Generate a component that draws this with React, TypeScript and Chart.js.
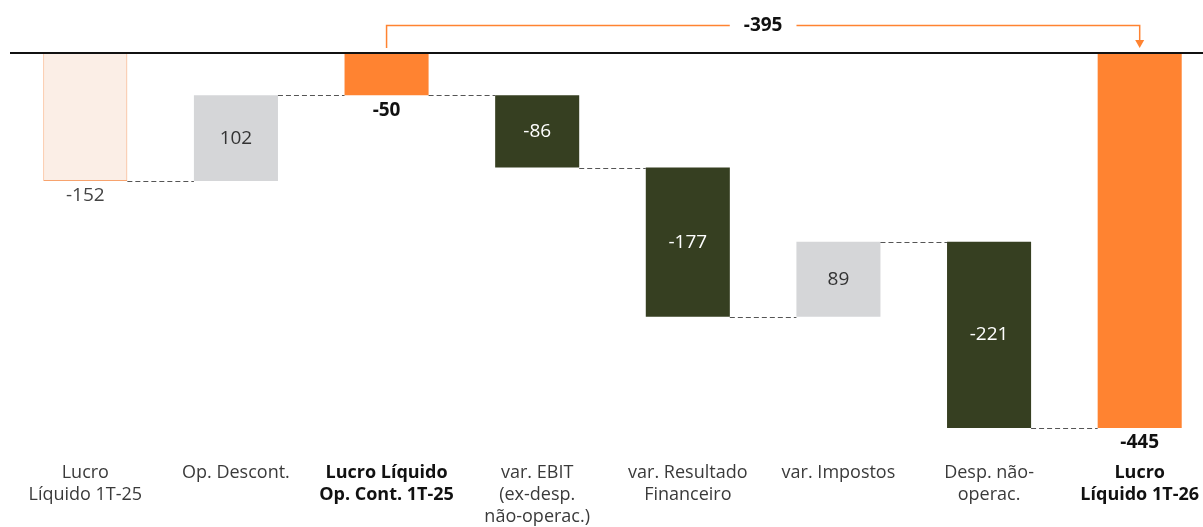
import React, { useEffect, useRef } from "react";
import { Chart, registerables } from "chart.js";

Chart.register(...registerables);

const categories: string[][] = [
  ["Lucro", "Líquido 1T-25"],
  ["Op. Descont."],
  ["Lucro Líquido", "Op. Cont. 1T-25"],
  ["var. EBIT", "(ex-desp.", "não-operac.)"],
  ["var. Resultado", "Financeiro"],
  ["var. Impostos"],
  ["Desp. não-", "operac."],
  ["Lucro", "Líquido 1T-26"],
];
const values: number[] = [-152, 102, -50, -86, -177, 89, -221, -445];
const isTotal: boolean[] = [true, false, true, false, false, false, false, true];
const emphasized: boolean[] = [false, false, true, false, false, false, false, true];
const bracketFrom = 2;
const bracketTo = 7;

const FONT = "'Open Sans', 'DejaVu Sans', sans-serif";
const ORANGE = "#FF8331";
const OLIVE = "#363F21";
const GRAY = "#D5D6D8";
const PEACH = "#FBEEE6";

const ranges: [number, number][] = [];
const levels: number[] = [];
{
  let run = 0;
  values.forEach((v, i) => {
    if (isTotal[i]) {
      ranges.push([0, v]);
      run = v;
    } else {
      ranges.push([run, run + v]);
      run += v;
    }
    levels.push(run);
  });
}

const fillColors = values.map((v, i) =>
  i === 0 ? PEACH : isTotal[i] ? ORANGE : v >= 0 ? GRAY : OLIVE
);
const borderColors = values.map((_, i) => (i === 0 ? "#F7A36E" : "rgba(0,0,0,0)"));
const borderWidths = values.map((_, i) => (i === 0 ? 1 : 0));

const CW = 1215;

const overlay = {
  id: "waterfallOverlay",
  afterDatasetsDraw(chart: any) {
    const { ctx, chartArea, scales } = chart;
    const y = scales.y;
    const meta = chart.getDatasetMeta(0);
    const els = meta.data;
    ctx.save();

    ctx.strokeStyle = "#555";
    ctx.lineWidth = 1;
    ctx.setLineDash([5, 3]);
    for (let i = 0; i < els.length - 1; i++) {
      const a = els[i];
      const b = els[i + 1];
      const py = Math.round(y.getPixelForValue(levels[i])) + 0.5;
      ctx.beginPath();
      ctx.moveTo(a.x + a.width / 2, py);
      ctx.lineTo(b.x - b.width / 2, py);
      ctx.stroke();
    }
    ctx.setLineDash([]);

    const zy = y.getPixelForValue(0);
    ctx.strokeStyle = "#111";
    ctx.lineWidth = 2;
    ctx.beginPath();
    ctx.moveTo(chartArea.left, zy);
    ctx.lineTo(chart.width, zy);
    ctx.stroke();

    ctx.textAlign = "center";
    ctx.textBaseline = "middle";
    els.forEach((el: any, i: number) => {
      const [s, e] = ranges[i];
      const txt = String(values[i]);
      if (isTotal[i]) {
        const bottom = y.getPixelForValue(Math.min(s, e));
        ctx.font = `${emphasized[i] ? "bold " : ""}19px ${FONT}`;
        ctx.fillStyle = emphasized[i] ? "#111" : "#444";
        ctx.fillText(txt, el.x, bottom + 15);
      } else {
        const mid = (y.getPixelForValue(s) + y.getPixelForValue(e)) / 2;
        ctx.font = `19px ${FONT}`;
        ctx.fillStyle = values[i] >= 0 ? "#333" : "#FFFFFF";
        ctx.fillText(txt, el.x, mid);
      }
    });

    const x1 = els[bracketFrom].x;
    const x2 = els[bracketTo].x;
    const topY = 25.5;
    ctx.strokeStyle = ORANGE;
    ctx.fillStyle = ORANGE;
    ctx.lineWidth = 1.5;
    ctx.beginPath();
    ctx.moveTo(x1, zy - 5);
    ctx.lineTo(x1, topY);
    ctx.lineTo(x2, topY);
    ctx.lineTo(x2, zy - 12);
    ctx.stroke();
    ctx.beginPath();
    ctx.moveTo(x2 - 4.5, zy - 13);
    ctx.lineTo(x2 + 4.5, zy - 13);
    ctx.lineTo(x2, zy - 5);
    ctx.closePath();
    ctx.fill();
    const diff = values[bracketTo] - values[bracketFrom];
    const label = String(diff);
    ctx.font = `bold 19px ${FONT}`;
    const w = ctx.measureText(label).width;
    const cx = (x1 + x2) / 2;
    ctx.fillStyle = "#FFFFFF";
    ctx.fillRect(cx - w / 2 - 14, topY - 12, w + 28, 24);
    ctx.fillStyle = "#111";
    ctx.fillText(label, cx, topY);

    ctx.restore();
  },
};

export default function App() {
  const ref = useRef<HTMLCanvasElement | null>(null);
  useEffect(() => {
    document.documentElement.style.overflow = "hidden";
    document.body.style.margin = "0";
    document.body.style.overflow = "hidden";
    const canvas = ref.current!;
    const chart = new Chart(canvas, {
      type: "bar",
      data: {
        labels: categories,
        datasets: [
          {
            data: ranges as any,
            backgroundColor: fillColors,
            borderColor: borderColors,
            borderWidth: borderWidths,
            borderSkipped: false,
            categoryPercentage: 1,
            barPercentage: 0.558,
          },
        ],
      },
      options: {
        responsive: false,
        animation: false,
        layout: { padding: { left: 10, top: 53, right: 0, bottom: 0 } },
        plugins: { legend: { display: false }, tooltip: { enabled: false } },
        scales: {
          x: {
            grid: { display: false, drawTicks: false },
            border: { display: false },
            afterFit: (scale: any) => {
              scale.height = 99;
              scale.paddingLeft = 0;
              scale.paddingRight = 0;
            },
            ticks: {
              padding: 34,
              autoSkip: false,
              maxRotation: 0,
              color: (c: any) => (emphasized[c.index] ? "#111" : "#3a3a3a"),
              font: (c: any) => ({
                family: FONT,
                size: 18,
                weight: emphasized[c.index] ? "bold" : "normal",
                lineHeight: 1.22,
              }),
            },
          },
          y: {
            display: false,
            min: -445,
            max: 0,
          },
        },
      },
      plugins: [overlay],
    });
    return () => chart.destroy();
  }, []);
  return (
    <div style={{ position: "relative", width: CW, height: 527, overflow: "hidden" }}>
      <canvas
        ref={ref}
        width={CW}
        height={527}
        style={{ display: "block", width: CW, height: 527 }}
      />
    </div>
  );
}
